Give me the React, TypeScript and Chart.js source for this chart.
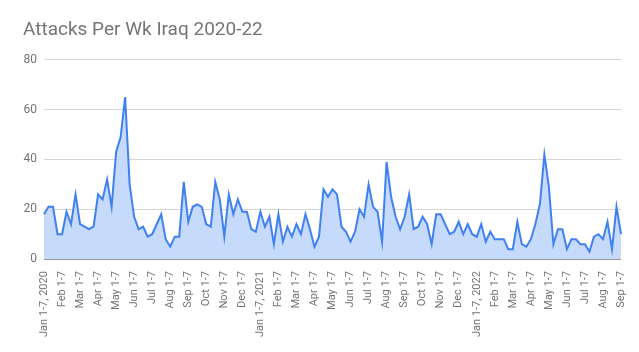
import React, { useEffect, useRef } from "react";
import { Chart, registerables } from "chart.js";

Chart.register(...registerables);

const TITLE = "Attacks Per Wk Iraq 2020-22";
const MONTHS = ["Jan", "Feb", "Mar", "Apr", "May", "Jun", "Jul", "Aug", "Sep", "Oct", "Nov", "Dec"];
const WEEKS = ["1-7", "8-14", "15-21", "22-31"];
const YEARS = [2020, 2021, 2022];
const Y_TICKS = [0, 20, 40, 60, 80];

const ATTACKS = [
  18, 21, 21, 10, 10, 19, 14, 26, 14, 13, 12, 13, 26, 24, 32, 21,
  43, 49, 65, 30, 17, 12, 13, 9, 10, 14, 18, 8, 5, 9, 9, 31,
  15, 21, 22, 21, 14, 13, 31, 24, 9, 26, 18, 24, 19, 19, 12, 11,
  19, 13, 17, 6, 18, 7, 13, 9, 14, 10, 18, 12, 5, 9, 28, 25,
  28, 26, 13, 11, 7, 11, 20, 17, 30, 21, 19, 7, 39, 25, 17, 12,
  17, 26, 12, 13, 17, 14, 6, 18, 18, 14, 10, 11, 15, 10, 14, 10,
  9, 14, 7, 11, 8, 8, 8, 4, 4, 15, 6, 5, 8, 14, 22, 42,
  29, 6, 12, 12, 4, 8, 8, 6, 6, 3, 9, 10, 8, 15, 4, 21,
  10,
];

const LABELS: string[] = [];
for (const y of YEARS) {
  for (let m = 0; m < 12; m++) {
    for (let w = 0; w < 4; w++) {
      let s = `${MONTHS[m]} ${WEEKS[w]}`;
      if (m === 0 && w === 0) s += `, ${y}`;
      LABELS.push(s);
    }
  }
}
const CATEGORIES = LABELS.slice(0, ATTACKS.length);

export default function App() {
  const ref = useRef<HTMLCanvasElement | null>(null);
  useEffect(() => {
    if (!ref.current) return;
    const chart = new Chart(ref.current, {
      type: "line",
      data: {
        labels: CATEGORIES,
        datasets: [
          {
            data: ATTACKS,
            borderColor: "#3f81f2",
            backgroundColor: "#c6dafc",
            borderWidth: 2,
            fill: "origin",
            pointRadius: 0,
            tension: 0,
          },
        ],
      },
      options: {
        animation: false,
        responsive: false,
        maintainAspectRatio: false,
        layout: { padding: { left: 23, right: 18, top: 0, bottom: 11 } },
        plugins: {
          legend: { display: false },
          tooltip: { enabled: false },
          title: {
            display: true,
            text: TITLE,
            align: "start",
            color: "#757575",
            font: { family: "Roboto", size: 19, weight: "normal" },
            padding: { top: 19, bottom: 18 },
          },
        },
        scales: {
          x: {
            grid: { display: false },
            border: { display: false },
            ticks: {
              autoSkip: false,
              maxRotation: 90,
              minRotation: 90,
              color: "#757575",
              padding: 4,
              font: { family: "Roboto", size: 11 },
              callback: (_v: any, i: number) => (i % 4 === 0 ? CATEGORIES[i] : ""),
            },
          },
          y: {
            min: 0,
            max: 80,
            afterFit: (s: any) => {
              s.width = 21;
            },
            afterBuildTicks: (s: any) => {
              s.ticks = Y_TICKS.map((v) => ({ value: v }));
            },
            border: { display: false },
            grid: {
              drawTicks: false,
              color: (c: any) => (c.tick && c.tick.value === 0 ? "#333333" : "#d6d6d6"),
              lineWidth: (c: any) => (c.tick && c.tick.value === 0 ? 1.5 : 1),
            },
            ticks: {
              color: "#757575",
              padding: 7,
              font: { family: "Roboto", size: 12 },
            },
          },
        },
      },
    });
    return () => chart.destroy();
  }, []);
  return (
    <div style={{ position: "fixed", left: 0, top: 0, width: 639, height: 352 }}>
      <canvas ref={ref} width={639} height={352} style={{ width: 639, height: 352 }} />
    </div>
  );
}
